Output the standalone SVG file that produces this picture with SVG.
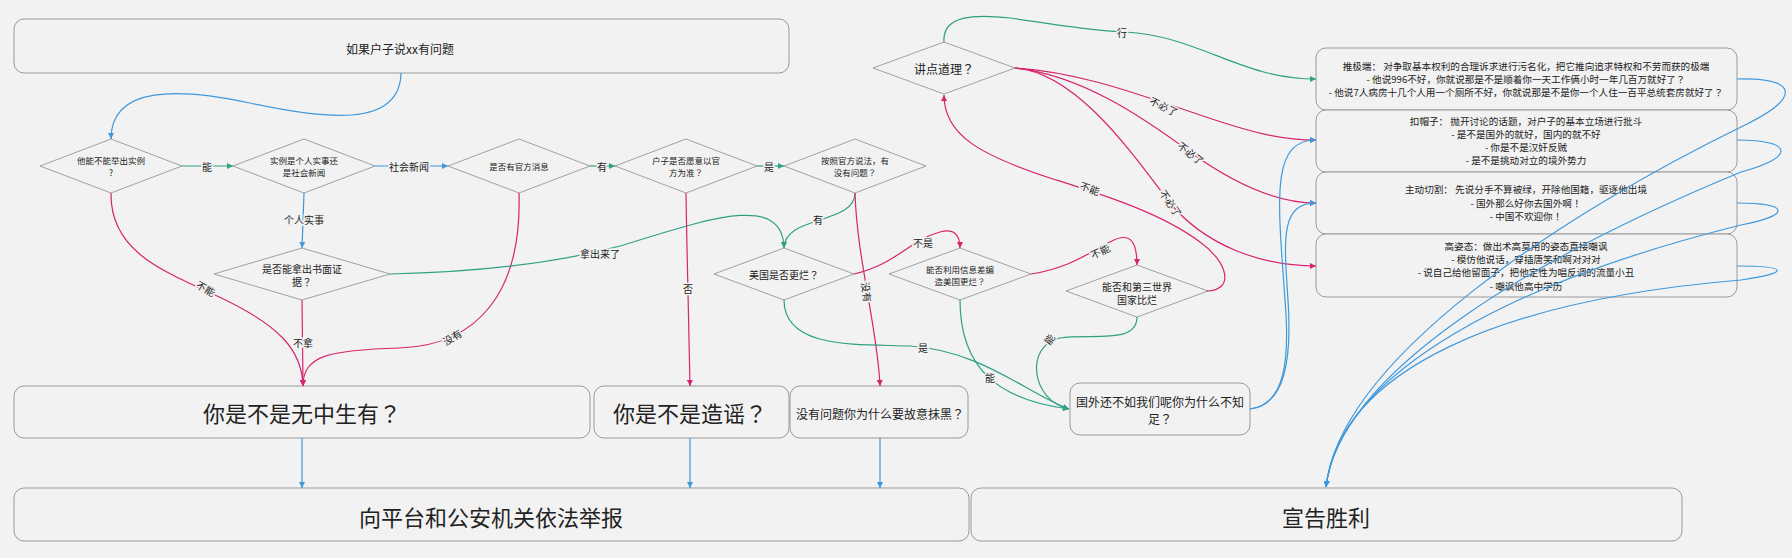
<svg xmlns="http://www.w3.org/2000/svg" width="1792" height="558" viewBox="0 0 1792 558">
<defs>
<style>
text{font-family:"Noto Sans CJK SC","Noto Sans",sans-serif;fill:#222;text-anchor:middle;dominant-baseline:central}
.q{font-family:"Noto Sans CJK TC","Noto Sans CJK SC",sans-serif}
.box{fill:#f2f2f2;stroke:#9a9a9a;stroke-width:1}
.dia{fill:#f2f2f2;stroke:#8c8c8c;stroke-width:0.8}
.e{fill:none;stroke-width:1.2}
.b{stroke:#3f98dc}
.g{stroke:#2ea084}
.p{stroke:#d6246e}
.b.e{marker-end:url(#ab)}
.g.e{marker-end:url(#ag)}
.p.e{marker-end:url(#ap)}
.lbl{font-size:10px;stroke:#f2f2f2;stroke-width:3;paint-order:stroke}
.s{font-size:8.5px}
.m{font-size:10px}
.r{font-size:9.6px}
.big{font-size:22px}
</style>
<marker id="ab" markerUnits="userSpaceOnUse" markerWidth="7" markerHeight="6" refX="6" refY="3" orient="auto"><path d="M0,0 L6,3 L0,6 z" fill="#3f98dc"/></marker>
<marker id="ag" markerUnits="userSpaceOnUse" markerWidth="7" markerHeight="6" refX="6" refY="3" orient="auto"><path d="M0,0 L6,3 L0,6 z" fill="#2ea084"/></marker>
<marker id="ap" markerUnits="userSpaceOnUse" markerWidth="7" markerHeight="6" refX="6" refY="3" orient="auto"><path d="M0,0 L6,3 L0,6 z" fill="#d6246e"/></marker>
</defs>
<rect x="0" y="0" width="1792" height="558" fill="#f2f2f2"/>

<g id="n-top"><rect class="box" x="14" y="19" width="775" height="54" rx="10"/><text x="400" y="48" style="font-size:12px">如果户子说xx有问题</text></g>

<g id="d1"><polygon class="dia" points="40,166 111,139 182,166 111,193"/><text class="s" x="111" y="160">他能不能举出实例</text><text class="s" x="111" y="172">?</text></g>
<g id="d2"><polygon class="dia" points="233,166 304,139 375,166 304,193"/><text class="s" x="304" y="160">实例是个人实事还</text><text class="s" x="304" y="172">是社会新闻</text></g>
<g id="d3"><polygon class="dia" points="448,166 519,139 590,166 519,193"/><text class="s" x="519" y="166">是否有官方消息</text></g>
<g id="d4"><polygon class="dia" points="615,166 686,139 757,166 686,193"/><text class="s" x="686" y="160">户子是否愿意以官</text><text class="s" x="686" y="172">方为准<tspan class="q">？</tspan></text></g>
<g id="d5"><polygon class="dia" points="784,166 855,139 926,166 855,193"/><text class="s" x="855" y="160">按照官方说法，有</text><text class="s" x="855" y="172">没有问题<tspan class="q">？</tspan></text></g>
<g id="d6"><polygon class="dia" points="214,274 302,248 390,274 302,300"/><text class="m" x="302" y="268">是否能拿出书面证</text><text class="m" x="302" y="281">据<tspan class="q">？</tspan></text></g>
<g id="d7"><polygon class="dia" points="714,274 784,248 854,274 784,300"/><text class="m" x="784" y="274">美国是否更烂<tspan class="q">？</tspan></text></g>
<g id="d8"><polygon class="dia" points="889,274 960,248 1031,274 960,300"/><text class="s" x="960" y="269">能否利用信息差编</text><text class="s" x="960" y="281">造美国更烂<tspan class="q">？</tspan></text></g>
<g id="d9"><polygon class="dia" points="1066,291 1137,265 1208,291 1137,317"/><text class="m" x="1137" y="286">能否和第三世界</text><text class="m" x="1137" y="299">国家比烂</text></g>
<g id="d10"><polygon class="dia" points="873,68 944,42 1015,68 944,94"/><text x="944" y="68" style="font-size:12px">讲点道理<tspan class="q">？</tspan></text></g>

<g id="n-wuzhong"><rect class="box" x="14" y="386" width="576" height="52" rx="10"/><text class="big" x="302" y="412">你是不是无中生有<tspan class="q">？</tspan></text></g>
<g id="n-zaoyao"><rect class="box" x="594" y="386" width="195" height="52" rx="10"/><text class="big" x="690" y="412">你是不是造谣<tspan class="q">？</tspan></text></g>
<g id="n-mohei"><rect class="box" x="790" y="386" width="178" height="52" rx="10"/><text x="880" y="413" style="font-size:12px">没有问题你为什么要故意抹黑<tspan class="q">？</tspan></text></g>
<g id="n-guowai"><rect class="box" x="1070" y="383" width="180" height="52" rx="10"/><text x="1160" y="401" style="font-size:12px">国外还不如我们呢你为什么不知</text><text x="1160" y="418" style="font-size:12px">足<tspan class="q">？</tspan></text></g>
<g id="n-jubao"><rect class="box" x="14" y="488" width="955" height="53" rx="10"/><text class="big" x="491" y="516">向平台和公安机关依法举报</text></g>
<g id="n-shengli"><rect class="box" x="971" y="488" width="711" height="53" rx="10"/><text class="big" x="1326" y="516">宣告胜利</text></g>

<g id="r1"><rect class="box" x="1316" y="48" width="421" height="62" rx="10"/>
<text class="r" x="1526" y="66">推极端： 对争取基本权利的合理诉求进行污名化，把它推向追求特权和不劳而获的极端</text>
<text class="r" x="1526" y="79">- 他说996不好，你就说那是不是顺着你一天工作俩小时一年几百万就好了<tspan class="q">？</tspan></text>
<text class="r" x="1526" y="92">- 他说7人病房十几个人用一个厕所不好，你就说那是不是你一个人住一百平总统套房就好了<tspan class="q">？</tspan></text></g>
<g id="r2"><rect class="box" x="1316" y="110" width="421" height="62" rx="10"/>
<text class="r" x="1526" y="121">扣帽子： 抛开讨论的话题，对户子的基本立场进行批斗</text>
<text class="r" x="1526" y="134">- 是不是国外的就好，国内的就不好</text>
<text class="r" x="1526" y="147">- 你是不是汉奸反贼</text>
<text class="r" x="1526" y="160">- 是不是挑动对立的境外势力</text></g>
<g id="r3"><rect class="box" x="1316" y="172" width="421" height="62" rx="10"/>
<text class="r" x="1526" y="189">主动切割： 先说分手不算被绿，开除他国籍，驱逐他出境</text>
<text class="r" x="1526" y="203">- 国外那么好你去国外啊<tspan class="q">！</tspan></text>
<text class="r" x="1526" y="216">- 中国不欢迎你<tspan class="q">！</tspan></text></g>
<g id="r4"><rect class="box" x="1316" y="234" width="421" height="63" rx="10"/>
<text class="r" x="1526" y="246">高姿态：做出术高莫用的姿态直接嘲讽</text>
<text class="r" x="1526" y="259">- 模仿他说话，穿插唐笑和啊对对对</text>
<text class="r" x="1526" y="272">- 说自己给他留面子，把他定性为唱反调的流量小丑</text>
<text class="r" x="1526" y="286">- 嘲讽他高中学历</text></g>

<g id="connectors">
<path class="e b" d="M401,73 C400,130 320,118 250,103 C180,88 111,85 111,139"/>
<path class="e g" d="M182,166 L233,166"/>
<path class="e b" d="M375,166 L448,166"/>
<path class="e g" d="M590,166 L615,166"/>
<path class="e g" d="M757,166 L784,166"/>
<path class="e b" d="M304,193 L302,248"/>
<path class="e p" d="M111,193 C110,250 160,270 215,295 C280,325 302,350 303,386"/>
<path class="e p" d="M302,300 L303,386"/>
<path class="e p" d="M519,193 C522,290 480,345 400,348 C330,350 303,355 303,386"/>
<path class="e g" d="M390,274 C480,272 560,262 620,246 C700,222 783,190 784,248"/>
<path class="e g" d="M855,193 C855,225 784,215 784,248"/>
<path class="e p" d="M686,193 C687,260 689,330 690,386"/>
<path class="e p" d="M855,193 C857,260 878,330 880,386"/>
<path class="e p" d="M854,274 C895,265 910,240 940,232 C955,228 960,236 960,248"/>
<path class="e p" d="M1031,274 C1070,268 1090,252 1110,242 C1128,232 1137,238 1137,265"/>
<path class="e g" d="M784,300 C784,350 860,344 910,346 C980,350 1030,395 1069,409"/>
<path class="e g" d="M960,300 C960,370 1000,400 1069,409"/>
<path class="e g" d="M1137,317 C1137,345 1090,333 1060,338 C1025,345 1030,400 1069,409"/>
<path class="e g" d="M944,42 C942,15 975,14 1010,18 C1060,25 1090,31 1125,32 C1200,36 1240,79 1316,79"/>
<path class="e p" d="M1015,68 C1080,72 1140,95 1200,115 C1250,132 1280,140 1316,140"/>
<path class="e p" d="M1015,68 C1080,75 1140,115 1190,152 C1240,188 1280,203 1316,203"/>
<path class="e p" d="M1015,68 C1075,72 1130,150 1170,203 C1205,245 1260,266 1316,266"/>
<path class="e p" d="M1207,291 C1235,290 1228,262 1200,242 C1160,212 1100,194 1050,178 C980,155 944,135 944,95"/>
<path class="e b" d="M1250,409 C1285,405 1290,360 1285,300 C1278,200 1270,140 1316,140"/>
<path class="e b" d="M1250,409 C1285,405 1292,360 1288,300 C1284,240 1280,203 1316,203"/>
<path class="e b" d="M1737,79 C1800,78 1800,98 1745,125 C1560,215 1340,360 1326,487"/>
<path class="e b" d="M1737,140 C1795,140 1795,158 1741,172 C1540,255 1340,370 1326,487"/>
<path class="e b" d="M1737,203 C1790,203 1792,215 1741,225 C1520,280 1340,370 1326,487"/>
<path class="e b" d="M1737,266 C1790,266 1790,273 1741,280 C1500,300 1340,370 1326,487"/>
<path class="e b" d="M302,438 L302,488"/>
<path class="e b" d="M690,438 L690,488"/>
<path class="e b" d="M880,438 L880,488"/>

<text class="lbl" x="207" y="166">能</text>
<text class="lbl" x="409" y="166">社会新闻</text>
<text class="lbl" x="602" y="166">有</text>
<text class="lbl" x="769" y="166">是</text>
<text class="lbl" x="304" y="219">个人实事</text>
<text class="lbl" x="206" y="288" transform="rotate(30 206 288)">不能</text>
<text class="lbl" x="303" y="342">不拿</text>
<text class="lbl" x="452" y="337" transform="rotate(-32 452 337)">没有</text>
<text class="lbl" x="600" y="253">拿出来了</text>
<text class="lbl" x="818" y="219">有</text>
<text class="lbl" x="688" y="288">否</text>
<text class="lbl" x="867" y="292" transform="rotate(82 867 292)">没有</text>
<text class="lbl" x="923" y="242">不是</text>
<text class="lbl" x="1100" y="251" transform="rotate(-25 1100 251)">不能</text>
<text class="lbl" x="923" y="347">是</text>
<text class="lbl" x="990" y="377">能</text>
<text class="lbl" x="1049" y="339" transform="rotate(-55 1049 339)">能</text>
<text class="lbl" x="1122" y="32">行</text>
<text class="lbl" x="1164" y="106" transform="rotate(26 1164 106)">不必了</text>
<text class="lbl" x="1191" y="153" transform="rotate(38 1191 153)">不必了</text>
<text class="lbl" x="1171" y="203" transform="rotate(55 1171 203)">不必了</text>
<text class="lbl" x="1090" y="188" transform="rotate(20 1090 188)">不能</text>
</g>
</svg>
